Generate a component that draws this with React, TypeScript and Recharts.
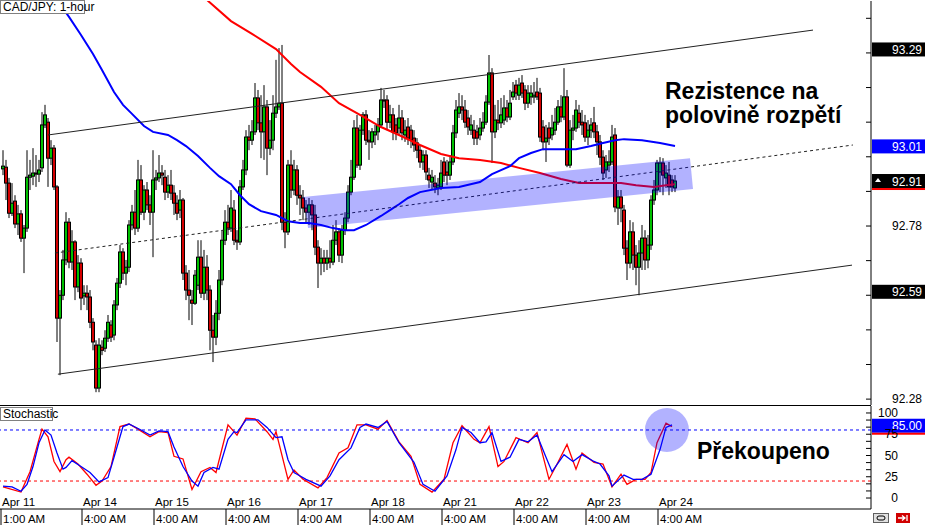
import React from "react";
import {
  ComposedChart,
  Bar,
  Line,
  XAxis,
  YAxis,
  ReferenceLine,
  ReferenceArea,
  ReferenceDot,
} from "recharts";

const FONT = "'Liberation Sans', Arial, sans-serif";
const GREEN = "#00c000";
const RED = "#d40000";

// hourly bars CAD/JPY, Apr 11 1:00 AM -> Apr 24 ~9:00 AM : [open, high, low, close]
const CANDLES: [number, number, number, number][] = [
  [92.945, 92.999, 92.927, 92.953], [92.950, 92.971, 92.855, 92.904], [92.904, 92.919, 92.803, 92.817], [92.817, 92.904, 92.809, 92.846],
  [92.852, 92.869, 92.774, 92.786], [92.786, 92.841, 92.754, 92.815], [92.815, 92.826, 92.734, 92.745], [92.745, 92.783, 92.644, 92.774],
  [92.774, 92.999, 92.763, 92.921], [92.921, 92.971, 92.884, 92.927], [92.924, 93.005, 92.898, 92.933], [92.933, 92.985, 92.893, 92.930],
  [92.930, 92.971, 92.907, 92.942], [92.948, 93.109, 92.936, 93.072], [93.072, 93.130, 93.063, 93.101], [93.080, 93.092, 92.893, 92.976],
  [92.976, 93.028, 92.956, 93.005], [93.005, 93.014, 92.884, 92.893], [92.893, 92.898, 92.445, 92.514], [92.514, 92.595, 92.349, 92.580],
  [92.580, 92.711, 92.566, 92.682], [92.682, 92.820, 92.667, 92.791], [92.791, 92.803, 92.658, 92.676], [92.676, 92.768, 92.653, 92.734],
  [92.734, 92.739, 92.566, 92.604], [92.604, 92.696, 92.589, 92.673], [92.673, 92.687, 92.537, 92.572], [92.578, 92.609, 92.552, 92.586],
  [92.586, 92.609, 92.537, 92.575], [92.575, 92.595, 92.485, 92.502], [92.502, 92.514, 92.421, 92.445], [92.436, 92.450, 92.300, 92.312],
  [92.312, 92.456, 92.300, 92.436], [92.430, 92.450, 92.407, 92.421], [92.427, 92.479, 92.416, 92.456], [92.456, 92.523, 92.445, 92.502],
  [92.494, 92.508, 92.445, 92.459], [92.465, 92.566, 92.450, 92.552], [92.552, 92.630, 92.537, 92.615], [92.615, 92.725, 92.601, 92.705],
  [92.705, 92.716, 92.624, 92.644], [92.644, 92.682, 92.609, 92.661], [92.661, 92.797, 92.647, 92.783], [92.783, 92.841, 92.768, 92.820],
  [92.820, 92.884, 92.754, 92.774], [92.774, 92.971, 92.763, 92.913], [92.913, 92.956, 92.812, 92.820], [92.820, 92.898, 92.797, 92.884],
  [92.884, 92.907, 92.826, 92.841], [92.841, 92.869, 92.783, 92.820], [92.820, 92.999, 92.690, 92.913], [92.913, 92.942, 92.884, 92.919],
  [92.919, 92.985, 92.907, 92.933], [92.933, 92.956, 92.898, 92.927], [92.921, 92.942, 92.855, 92.878], [92.878, 92.927, 92.861, 92.898],
  [92.898, 92.942, 92.855, 92.875], [92.875, 92.898, 92.812, 92.846], [92.846, 92.869, 92.797, 92.817], [92.826, 92.884, 92.803, 92.855],
  [92.855, 92.861, 92.624, 92.644], [92.644, 92.667, 92.566, 92.595], [92.595, 92.653, 92.508, 92.580], [92.566, 92.595, 92.494, 92.557],
  [92.557, 92.653, 92.552, 92.638], [92.609, 92.739, 92.595, 92.690], [92.690, 92.739, 92.572, 92.586], [92.586, 92.711, 92.566, 92.661],
  [92.661, 92.696, 92.566, 92.595], [92.595, 92.609, 92.421, 92.479], [92.479, 92.523, 92.387, 92.459], [92.459, 92.566, 92.436, 92.528],
  [92.528, 92.653, 92.508, 92.624], [92.624, 92.768, 92.609, 92.739], [92.739, 92.826, 92.725, 92.791], [92.791, 92.841, 92.754, 92.774],
  [92.774, 92.884, 92.763, 92.832], [92.826, 92.855, 92.725, 92.739], [92.739, 92.768, 92.711, 92.734], [92.734, 92.913, 92.725, 92.893],
  [92.893, 92.971, 92.884, 92.942], [92.942, 93.057, 92.927, 93.037], [93.037, 93.072, 92.999, 93.028], [93.028, 93.086, 93.014, 93.052],
  [93.052, 93.193, 93.043, 93.150], [93.150, 93.173, 93.057, 93.078], [93.078, 93.158, 92.976, 93.052], [93.052, 93.187, 92.971, 93.124],
  [93.124, 93.144, 92.927, 93.005], [93.005, 93.086, 92.985, 93.028], [93.028, 93.158, 92.999, 93.106], [93.106, 93.260, 93.092, 93.124],
  [93.124, 93.294, 93.115, 93.135], [93.135, 93.303, 92.768, 92.791], [92.791, 92.820, 92.716, 92.763], [92.763, 92.971, 92.754, 92.956],
  [92.956, 92.999, 92.861, 92.884], [92.884, 92.971, 92.869, 92.942], [92.942, 92.956, 92.841, 92.869], [92.869, 92.898, 92.812, 92.861],
  [92.861, 92.884, 92.797, 92.832], [92.832, 92.855, 92.791, 92.820], [92.820, 92.861, 92.783, 92.841], [92.841, 92.855, 92.768, 92.812],
  [92.812, 92.841, 92.696, 92.719], [92.719, 92.739, 92.601, 92.673], [92.673, 92.716, 92.638, 92.687], [92.687, 92.711, 92.647, 92.673],
  [92.673, 92.711, 92.653, 92.687], [92.687, 92.739, 92.658, 92.676], [92.676, 92.783, 92.667, 92.739], [92.739, 92.797, 92.725, 92.763],
  [92.763, 92.774, 92.676, 92.696], [92.696, 92.783, 92.673, 92.768], [92.768, 92.820, 92.754, 92.803], [92.803, 92.898, 92.791, 92.878],
  [92.878, 92.971, 92.869, 92.921], [92.921, 93.086, 92.913, 93.063], [93.063, 93.101, 92.948, 92.956], [92.956, 93.072, 92.942, 93.057],
  [93.057, 93.109, 93.043, 93.101], [93.101, 93.115, 93.014, 93.028], [93.028, 93.057, 92.971, 93.023], [93.023, 93.063, 93.005, 93.052],
  [93.043, 93.072, 93.014, 93.052], [93.052, 93.092, 93.028, 93.072], [93.072, 93.179, 93.063, 93.144], [93.144, 93.173, 93.121, 93.141],
  [93.144, 93.158, 93.057, 93.080], [93.080, 93.130, 93.063, 93.101], [93.101, 93.121, 93.028, 93.052], [93.072, 93.092, 93.028, 93.049],
  [93.063, 93.130, 93.043, 93.092], [93.092, 93.115, 93.028, 93.049], [93.043, 93.086, 93.023, 93.057], [93.066, 93.092, 93.014, 93.034],
  [93.057, 93.072, 93.005, 93.028], [93.034, 93.057, 92.994, 93.014], [93.020, 93.034, 92.976, 92.999], [92.999, 93.014, 92.948, 92.965],
  [92.965, 92.999, 92.942, 92.985], [92.985, 92.999, 92.913, 92.936], [92.927, 92.948, 92.890, 92.913], [92.907, 92.942, 92.884, 92.921],
  [92.904, 92.927, 92.875, 92.893], [92.890, 92.919, 92.869, 92.898], [92.893, 92.971, 92.884, 92.933], [92.965, 92.979, 92.907, 92.927],
  [92.936, 92.971, 92.898, 92.927], [92.927, 92.985, 92.913, 92.965], [92.965, 93.072, 92.956, 93.049], [93.049, 93.144, 93.034, 93.115],
  [93.106, 93.164, 93.092, 93.124], [93.124, 93.158, 93.086, 93.115], [93.115, 93.144, 93.063, 93.080], [93.092, 93.115, 93.043, 93.066],
  [93.057, 93.101, 93.043, 93.072], [93.057, 93.086, 93.014, 93.034], [93.052, 93.072, 93.014, 93.034], [93.043, 93.092, 93.028, 93.063],
  [93.063, 93.109, 93.052, 93.080], [93.080, 93.158, 93.072, 93.138], [93.138, 93.274, 93.130, 93.222], [93.222, 93.236, 92.962, 93.052],
  [93.052, 93.130, 93.034, 93.086], [93.086, 93.144, 93.057, 93.078], [93.078, 93.150, 93.063, 93.101], [93.086, 93.158, 93.072, 93.121],
  [93.121, 93.144, 93.080, 93.095], [93.095, 93.173, 93.086, 93.135], [93.153, 93.196, 93.144, 93.167], [93.187, 93.202, 93.144, 93.164],
  [93.158, 93.208, 93.144, 93.187], [93.193, 93.216, 93.150, 93.164], [93.173, 93.187, 93.115, 93.135], [93.135, 93.187, 93.121, 93.164],
  [93.153, 93.187, 93.130, 93.164], [93.153, 93.196, 93.135, 93.158], [93.167, 93.208, 93.144, 93.153], [93.164, 93.179, 93.023, 93.037],
  [93.066, 93.086, 92.999, 93.023], [93.023, 93.072, 92.965, 93.034], [93.063, 93.080, 93.014, 93.034], [93.043, 93.101, 93.028, 93.063],
  [93.057, 93.121, 93.043, 93.080], [93.080, 93.144, 93.072, 93.124], [93.124, 93.158, 93.080, 93.095], [93.095, 93.236, 93.086, 93.153],
  [93.153, 93.173, 92.950, 92.956], [92.956, 93.086, 92.948, 93.057], [93.057, 93.101, 93.028, 93.063], [93.063, 93.144, 93.052, 93.115],
  [93.106, 93.130, 93.063, 93.080], [93.080, 93.115, 93.043, 93.072], [93.078, 93.101, 93.023, 93.037], [93.037, 93.086, 93.014, 93.057],
  [93.057, 93.092, 93.034, 93.072], [93.078, 93.124, 93.034, 93.052], [93.052, 93.072, 92.985, 93.023], [93.023, 93.043, 92.956, 92.979],
  [92.979, 92.999, 92.913, 92.933], [92.942, 92.985, 92.919, 92.965], [92.956, 92.999, 92.936, 92.965], [92.965, 93.072, 92.956, 93.037],
  [93.043, 93.063, 92.820, 92.835], [92.832, 92.884, 92.783, 92.864], [92.864, 92.884, 92.791, 92.832], [92.826, 92.841, 92.696, 92.716],
  [92.716, 92.739, 92.624, 92.673], [92.673, 92.797, 92.658, 92.763], [92.763, 92.791, 92.653, 92.696], [92.696, 92.725, 92.609, 92.661],
  [92.661, 92.739, 92.580, 92.702], [92.702, 92.783, 92.653, 92.745], [92.745, 92.768, 92.653, 92.682], [92.682, 92.754, 92.658, 92.725],
  [92.725, 92.869, 92.711, 92.855], [92.855, 92.913, 92.841, 92.884], [92.884, 92.971, 92.869, 92.962], [92.936, 92.979, 92.878, 92.962],
  [92.962, 92.976, 92.869, 92.927], [92.919, 92.956, 92.890, 92.933], [92.927, 92.965, 92.869, 92.893], [92.913, 92.927, 92.878, 92.893],
  [92.890, 92.927, 92.878, 92.910],
];

// moving averages: [bar, price]
const BLUE_MA: [number, number][] = [
  [14, 93.485], [18, 93.433], [22, 93.384], [26, 93.332], [30, 93.277], [33, 93.231], [37, 93.167], [40, 93.13],
  [43, 93.104], [47, 93.069], [50, 93.052], [55, 93.043], [58, 93.028], [61, 93.011], [65, 92.982], [69, 92.948],
  [72, 92.924], [76, 92.901], [79, 92.869], [82, 92.843], [86, 92.823], [91, 92.812], [95, 92.794], [99, 92.789],
  [102, 92.789], [106, 92.783], [110, 92.774], [114, 92.768], [117, 92.768], [121, 92.783], [126, 92.809], [129, 92.826],
  [132, 92.843], [135, 92.861], [139, 92.878], [146, 92.89], [152, 92.893], [159, 92.907], [163, 92.93], [169, 92.953],
  [172, 92.976], [176, 92.991], [180, 93.002], [186, 93.002], [191, 93.002], [196, 93.011], [200, 93.02], [204, 93.028],
  [207, 93.031], [213, 93.028], [219, 93.02], [224, 93.011],
];
const RED_MA: [number, number][] = [
  [62, 93.456], [68, 93.433], [76, 93.372], [83, 93.335], [91, 93.291], [96, 93.248], [99, 93.225], [106, 93.182],
  [112, 93.135], [119, 93.101], [126, 93.066], [132, 93.043], [139, 93.014], [146, 92.988], [152, 92.976], [159, 92.971],
  [166, 92.962], [172, 92.948], [179, 92.933], [186, 92.916], [192, 92.904], [199, 92.904], [206, 92.904], [211, 92.898],
  [217, 92.893], [221, 92.898], [224, 92.901],
];

// stochastic %K (red) and %D (blue): [bar, value]
const STOCH_K: [number, number][] = [
  [0, 13], [6, 7], [9, 31], [12, 69], [13, 81], [15, 72], [17, 43], [19, 31], [21, 45], [22, 48], [25, 40], [28, 28],
  [31, 15], [33, 20], [36, 37], [39, 84], [42, 87], [45, 81], [49, 72], [52, 78], [55, 77], [57, 49], [60, 46], [63, 10],
  [66, 31], [69, 36], [71, 30], [75, 86], [78, 74], [81, 94], [84, 93], [88, 78], [90, 69], [91, 78], [95, 22], [97, 33],
  [100, 22], [105, 12], [108, 24], [112, 53], [115, 59], [118, 86], [121, 86], [125, 81], [128, 91], [132, 66], [136, 49],
  [139, 16], [143, 7], [147, 22], [150, 65], [153, 85], [157, 69], [159, 65], [162, 84], [165, 37], [167, 43], [171, 71],
  [175, 65], [178, 77], [182, 22], [185, 42], [188, 63], [191, 34], [193, 53], [197, 42], [200, 40], [203, 13], [206, 28],
  [208, 16], [211, 22], [214, 22], [216, 30], [218, 65], [221, 88], [223, 84],
];
const STOCH_D: [number, number][] = [
  [0, 14], [3, 13], [6, 8], [8, 16], [10, 37], [12, 65], [14, 80], [16, 74], [18, 53], [20, 34], [21, 36], [23, 44],
  [26, 37], [29, 30], [32, 19], [35, 24], [37, 48], [40, 84], [42, 87], [46, 80], [49, 74], [52, 79], [55, 78], [57, 60],
  [60, 37], [63, 20], [65, 14], [67, 30], [70, 36], [72, 34], [75, 69], [77, 78], [78, 77], [81, 92], [85, 92], [88, 83],
  [91, 71], [93, 72], [95, 45], [97, 30], [98, 28], [101, 22], [106, 14], [109, 26], [112, 45], [116, 59], [119, 83],
  [121, 87], [125, 83], [128, 90], [132, 65], [137, 42], [140, 16], [144, 8], [148, 26], [151, 57], [153, 83], [156, 77],
  [159, 65], [161, 66], [163, 77], [166, 43], [169, 48], [172, 69], [175, 66], [178, 74], [181, 48], [183, 31], [187, 51],
  [190, 43], [193, 51], [197, 43], [199, 40], [202, 26], [203, 14], [207, 27], [210, 22], [213, 22], [216, 28], [219, 57],
  [221, 83], [223, 86],
];

const DATE_BARS = [0, 27, 51, 75, 99, 123, 147, 171, 195, 219];
const DATE_LABELS = ["Apr 11", "Apr 14", "Apr 15", "Apr 16", "Apr 17", "Apr 18", "Apr 21", "Apr 22", "Apr 23", "Apr 24"];
const TIME_LABELS = ["1:00 AM", "4:00 AM", "4:00 AM", "4:00 AM", "4:00 AM", "4:00 AM", "4:00 AM", "4:00 AM", "4:00 AM", "4:00 AM"];

const PRICE_TICKS = [92.28, 92.38, 92.48, 92.58, 92.68, 92.78, 92.88, 92.98, 93.08, 93.18, 93.28, 93.38];
const PRICE_LABELS = [92.28, 92.78];
const STOCH_TICKS = [0, 8.333, 16.667, 25, 33.333, 41.667, 50, 58.333, 66.667, 75, 83.333, 91.667, 100];
const STOCH_LABELS = [0, 25, 50, 75, 100];
const STOCH_LEVELS = [
  { value: 80, color: "#0000ff" },
  { value: 20, color: "#ff0000" },
];

// drawn objects: [bar, price]
const CHANNEL_UPPER: [number, number][] = [[15, 93.043], [270, 93.346]];
const CHANNEL_MID: [number, number][] = [[17.3, 92.702], [283.3, 93.014]];
const CHANNEL_LOWER: [number, number][] = [[18.3, 92.352], [283, 92.667]];
const BAND: [number, number][] = [[100, 92.864], [229, 92.976], [230, 92.887], [101.7, 92.774]];
const OVERBOUGHT_MARK: [number, number] = [221.3, 80];

const PRICE_TAGS = [
  { value: 93.29, bg: "#000000" },
  { value: 93.01, bg: "#0000ff" },
  { value: 92.91, bg: "#000000", arrow: true, under: "#ff0000" },
  { value: 92.59, bg: "#000000" },
];
const STOCH_TAG = { value: 85, bg: "#0000ff", under: "#ff0000" };

const X_DOMAIN: [number, number] = [-1, 289.33];
const PRICE_DOMAIN: [number, number] = [92.263, 93.43];
const STOCH_DOMAIN: [number, number] = [-12.9, 108.2];

const mainData: any[] = CANDLES.map(([o, h, l, c], i) => ({ i, o, h, l, c, range: [l, h] }));
BLUE_MA.forEach(([i, v]) => (mainData[i].blue = v));
RED_MA.forEach(([i, v]) => (mainData[i].red = v));

const stochData: any[] = CANDLES.map((_, i) => ({ i }));
STOCH_K.forEach(([i, v]) => (stochData[i].k = v));
STOCH_D.forEach(([i, v]) => (stochData[i].d = v));

const BAND_X = [Math.min(...BAND.map((b) => b[0])), Math.max(...BAND.map((b) => b[0]))];
const BAND_Y = [Math.min(...BAND.map((b) => b[1])), Math.max(...BAND.map((b) => b[1]))];

function Candle(props: any) {
  const { x, y, width, height, payload } = props;
  if (!payload || height == null) return null;
  const { o, h, l, c } = payload;
  const top = Math.min(y, y + height);
  const span = Math.abs(height);
  const toY = (v: number) => top + (h === l ? 0 : ((h - v) / (h - l)) * span);
  const cx = Math.round(x + width / 2);
  const yo = toY(o);
  const yc = toY(c);
  const bodyTop = Math.min(yo, yc);
  const bodyH = Math.max(Math.abs(yc - yo), 1);
  return (
    <g>
      <line x1={cx} x2={cx} y1={top} y2={top + span} stroke="#000" strokeWidth={1} />
      <rect x={cx - 1.5} y={bodyTop} width={3} height={bodyH} fill={c >= o ? GREEN : RED} stroke="#000" strokeWidth={1} />
    </g>
  );
}

function BandShape(props: any) {
  const { x, y, width, height } = props;
  const pts = BAND.map(([bi, bp]) => {
    const px = x + ((bi - BAND_X[0]) / (BAND_X[1] - BAND_X[0])) * width;
    const py = y + ((BAND_Y[1] - bp) / (BAND_Y[1] - BAND_Y[0])) * height;
    return `${px},${py}`;
  }).join(" ");
  return <polygon points={pts} fill="#0000ff" fillOpacity={0.3} />;
}

function PriceTick(props: any) {
  const { x, y, payload } = props;
  const show = PRICE_LABELS.some((v) => Math.abs(v - payload.value) < 1e-6);
  return (
    <g>
      <line x1={x - 5} x2={x} y1={y} y2={y} stroke="#000" />
      {show && (
        <text x={x + 51} y={y + 4} textAnchor="end" fontSize={12} fontFamily={FONT} fill="#000">
          {payload.value.toFixed(2)}
        </text>
      )}
    </g>
  );
}

function StochTick(props: any) {
  const { x, y, payload } = props;
  const show = STOCH_LABELS.some((v) => Math.abs(v - payload.value) < 1e-6);
  return (
    <g>
      <line x1={x - 5} x2={x} y1={y} y2={y} stroke="#000" />
      {show && (
        <text x={x + 27} y={y + 4} textAnchor="end" fontSize={12} fontFamily={FONT} fill="#000">
          {payload.value}
        </text>
      )}
    </g>
  );
}

// small tick marks along the left edge of each panel
function LeftTick(props: any) {
  const { x, y } = props;
  return <line x1={x} x2={x + 4} y1={y} y2={y} stroke="#000" />;
}

function TimeTick(props: any) {
  const { x, y, payload } = props;
  const idx = DATE_BARS.indexOf(payload.value);
  if (idx < 0) return null;
  return (
    <g fontFamily={FONT} fontSize={11.5} fill="#000">
      <line x1={x - 2} x2={x - 2} y1={y} y2={y + 16} stroke="#000" />
      <text x={x - 1} y={y - 3}>{DATE_LABELS[idx]}</text>
      <text x={x} y={y + 14}>{TIME_LABELS[idx]}</text>
    </g>
  );
}

function TagLabel(props: any) {
  const { viewBox, tag, digits } = props;
  if (!viewBox) return null;
  const left = viewBox.x + viewBox.width + 1;
  const y = viewBox.y;
  return (
    <g>
      <rect x={left} y={y - 7} width={54} height={14} fill={tag.bg} />
      {tag.under && <rect x={left} y={y + 7} width={54} height={2} fill={tag.under} />}
      {tag.arrow && <path d={`M${left + 3},${y + 1} L${left + 6},${y - 3} L${left + 9},${y + 1} Z`} fill="#fff" />}
      <text x={left + 50} y={y + 4.5} textAnchor="end" fontSize={12} fontFamily={FONT} fill="#fff">
        {tag.value.toFixed(digits)}
      </text>
    </g>
  );
}

export default function App() {
  return (
    <div style={{ position: "absolute", left: 0, top: 0, width: 925, height: 525, background: "#fff" }}>
      <div style={{ position: "absolute", left: 0, top: 0 }}>
        <ComposedChart width={925} height={406} data={mainData} margin={{ top: 1, right: 0, bottom: 1, left: 0 }}>
          <XAxis
            dataKey="i"
            type="number"
            domain={X_DOMAIN}
            allowDataOverflow
            orientation="top"
            height={0}
            tick={false}
            tickLine={false}
            axisLine={{ stroke: "#000" }}
          />
          <YAxis
            orientation="right"
            type="number"
            domain={PRICE_DOMAIN}
            allowDataOverflow
            width={54}
            ticks={PRICE_TICKS}
            interval={0}
            tickSize={0}
            tickMargin={0}
            tick={<PriceTick />}
            axisLine={{ stroke: "#000" }}
          />
          <YAxis
            yAxisId="left"
            orientation="left"
            type="number"
            domain={PRICE_DOMAIN}
            allowDataOverflow
            width={0}
            ticks={PRICE_TICKS}
            interval={0}
            tickSize={0}
            tickMargin={0}
            tick={<LeftTick />}
            axisLine={false}
          />
          <Bar dataKey="range" barSize={3} shape={<Candle />} isAnimationActive={false} />
          <Line dataKey="red" stroke="#ff0000" strokeWidth={2} dot={false} connectNulls isAnimationActive={false} />
          <Line dataKey="blue" stroke="#0000ff" strokeWidth={2} dot={false} connectNulls isAnimationActive={false} />
          <ReferenceLine segment={CHANNEL_UPPER.map(([x, y]) => ({ x, y }))} stroke="#222" strokeWidth={1} />
          <ReferenceLine segment={CHANNEL_MID.map(([x, y]) => ({ x, y }))} stroke="#222" strokeWidth={1} strokeDasharray="3 3" />
          <ReferenceLine segment={CHANNEL_LOWER.map(([x, y]) => ({ x, y }))} stroke="#222" strokeWidth={1} />
          <ReferenceArea
            x1={BAND_X[0]}
            x2={BAND_X[1]}
            y1={BAND_Y[0]}
            y2={BAND_Y[1]}
            shape={<BandShape />}
            ifOverflow="visible"
            zIndex={700}
          />
          {PRICE_TAGS.map((t) => (
            <ReferenceLine key={t.value} y={t.value} stroke="none" label={<TagLabel tag={t} digits={2} />} />
          ))}
        </ComposedChart>
      </div>
      <div style={{ position: "absolute", left: 0, top: 406 }}>
        <ComposedChart width={925} height={119} data={stochData} margin={{ top: 0, right: 0, bottom: 0, left: 0 }}>
          <XAxis
            dataKey="i"
            type="number"
            domain={X_DOMAIN}
            allowDataOverflow
            ticks={DATE_BARS}
            interval={0}
            height={16}
            tickSize={0}
            tickMargin={0}
            tick={<TimeTick />}
            axisLine={{ stroke: "#000" }}
          />
          <YAxis
            orientation="right"
            type="number"
            domain={STOCH_DOMAIN}
            allowDataOverflow
            width={54}
            ticks={STOCH_TICKS}
            interval={0}
            tickSize={0}
            tickMargin={0}
            tick={<StochTick />}
            axisLine={{ stroke: "#000" }}
          />
          <YAxis
            yAxisId="left"
            orientation="left"
            type="number"
            domain={STOCH_DOMAIN}
            allowDataOverflow
            width={0}
            ticks={STOCH_TICKS}
            interval={0}
            tickSize={0}
            tickMargin={0}
            tick={<LeftTick />}
            axisLine={false}
          />
          {STOCH_LEVELS.map((lv) => (
            <ReferenceLine key={lv.value} y={lv.value} stroke={lv.color} strokeDasharray="3 3" />
          ))}
          <Line dataKey="k" stroke="#ff0000" strokeWidth={1.3} dot={false} connectNulls isAnimationActive={false} />
          <Line dataKey="d" stroke="#0000ff" strokeWidth={1.3} dot={false} connectNulls isAnimationActive={false} />
          <ReferenceDot
            x={OVERBOUGHT_MARK[0]}
            y={OVERBOUGHT_MARK[1]}
            r={22}
            fill="#0000ff"
            fillOpacity={0.3}
            stroke="none"
            ifOverflow="visible"
            zIndex={700}
          />
          <ReferenceLine y={STOCH_TAG.value} stroke="none" label={<TagLabel tag={STOCH_TAG} digits={2} />} />
        </ComposedChart>
      </div>
      <svg width={925} height={525} style={{ position: "absolute", left: 0, top: 0, pointerEvents: "none" }}>
        <line x1={0} x2={871} y1={405.5} y2={405.5} stroke="#000" />
        <rect x={0.5} y={0.5} width={84} height={13} fill="#fff" stroke="#808080" />
        <text x={3} y={11} fontSize={12} fontFamily={FONT} fill="#000">CAD/JPY: 1-hour</text>
        <rect x={0.5} y={407.5} width={52} height={13} fill="#fff" stroke="#808080" />
        <text x={3} y={418} fontSize={12} fontFamily={FONT} fill="#000">Stochastic</text>
        <g fontFamily={FONT} fontWeight="bold" fontSize={23} fill="#000">
          <text x={665} y={99}>Rezistence na</text>
          <text x={665} y={123}>polovině rozpětí</text>
          <text x={697} y={459}>Překoupeno</text>
        </g>
        <rect x={873.5} y={513.5} width={15} height={9} fill="#e0e0e0" stroke="#606060" />
        <rect x={877} y={516} width={8} height={4} rx={2} fill="none" stroke="#000" />
        <rect x={896} y={513} width={14} height={10} fill="#d00000" />
        <path d="M898,518 L905,518 M902,515.5 L905,518 L902,520.5 M907,515 L907,521" stroke="#fff" strokeWidth={1.3} fill="none" />
      </svg>
    </div>
  );
}
